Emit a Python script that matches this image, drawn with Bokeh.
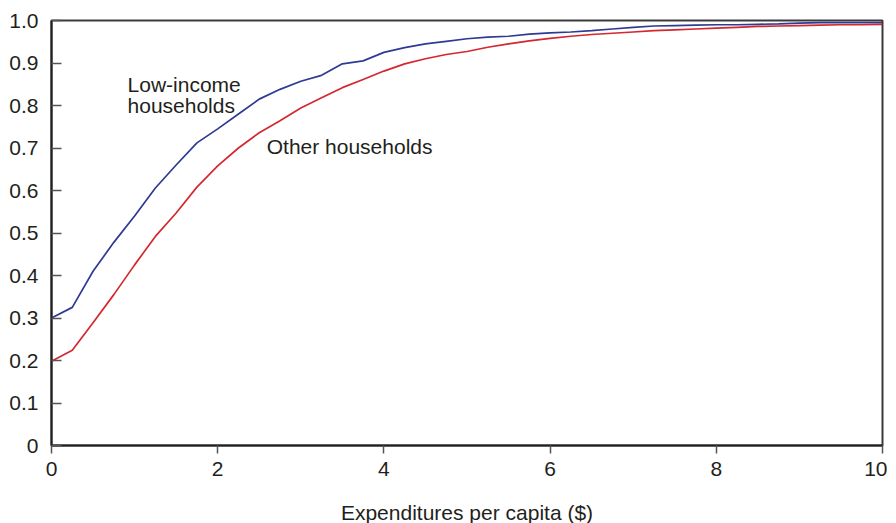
from bokeh.plotting import figure
from bokeh.models import Range1d, FixedTicker, ColumnDataSource
from bokeh.core.properties import value
from bokeh.embed import file_html
from bokeh.resources import INLINE

# ---- data ----
expenditure = [0, 0.25, 0.5, 0.75, 1.0, 1.25, 1.5, 1.75, 2.0, 2.25, 2.5, 2.75,
               3.0, 3.25, 3.5, 3.75, 4.0, 4.25, 4.5, 4.75, 5.0, 5.25, 5.5, 5.75,
               6.0, 6.25, 6.5, 6.75, 7.0, 7.25, 7.5, 7.75, 8.0, 8.25, 8.5, 8.75,
               9.0, 9.25, 9.5, 9.75, 10.0]
low_income = [0.300, 0.325, 0.410, 0.478, 0.540, 0.606, 0.660, 0.712, 0.745, 0.780,
              0.815, 0.838, 0.857, 0.871, 0.898, 0.905, 0.925, 0.936, 0.945, 0.951,
              0.957, 0.961, 0.963, 0.968, 0.971, 0.973, 0.976, 0.980, 0.984, 0.987,
              0.988, 0.989, 0.990, 0.990, 0.991, 0.992, 0.994, 0.995, 0.995, 0.995,
              0.995]
other = [0.198, 0.224, 0.289, 0.355, 0.425, 0.492, 0.547, 0.608, 0.658, 0.700,
         0.736, 0.764, 0.794, 0.818, 0.842, 0.861, 0.881, 0.898, 0.910, 0.920,
         0.927, 0.937, 0.945, 0.952, 0.958, 0.963, 0.967, 0.970, 0.973, 0.976,
         0.978, 0.980, 0.982, 0.984, 0.986, 0.987, 0.988, 0.989, 0.990, 0.990,
         0.991]

x_ticks = [0, 2, 4, 6, 8, 10]
y_ticks = [0, 0.1, 0.2, 0.3, 0.4, 0.5, 0.6, 0.7, 0.8, 0.9, 1.0]
y_tick_labels = ["0", "0.1", "0.2", "0.3", "0.4", "0.5", "0.6", "0.7", "0.8", "0.9", "1.0"]
x_title = "Expenditures per capita ($)"

label_texts = ["Low-income", "households", "Other households"]
label_x = [0.915, 0.915, 2.59]
label_y = [0.850, 0.801, 0.704]

FONT = "Liberation Sans"
TXT = "#231f20"
FS = "21px"

p = figure(width=887, height=515, output_backend="svg", toolbar_location=None,
           x_range=Range1d(0, 10), y_range=Range1d(0, 1),
           min_border_left=51, min_border_right=5, min_border_top=20,
           min_border_bottom=70)
p.frame_width = 831
p.frame_height = 425

p.xgrid.visible = False
p.ygrid.visible = False
p.outline_line_color = "#3a3a3a"
p.outline_line_width = 2
p.background_fill_color = "white"
p.border_fill_color = "white"

p.line(expenditure, low_income, line_color="#2e3a93", line_width=1.7)
p.line(expenditure, other, line_color="#d3282f", line_width=1.7)

src = ColumnDataSource(dict(x=label_x, y=label_y, t=label_texts))
p.text(x="x", y="y", text="t", source=src, text_font=value(FONT),
       text_font_size=FS, text_color=TXT, text_baseline="alphabetic",
       text_align="left")

xa = p.xaxis[0]
xa.ticker = FixedTicker(ticks=x_ticks)
xa.axis_label = x_title
xa.axis_label_text_font = FONT
xa.axis_label_text_font_size = FS
xa.axis_label_text_font_style = "normal"
xa.axis_label_text_color = TXT
xa.axis_label_standoff = 22
xa.major_label_text_font = FONT
xa.major_label_text_font_size = FS
xa.major_label_text_color = TXT
xa.major_label_standoff = 8
xa.major_tick_in = 0
xa.major_tick_out = 8
xa.minor_tick_in = 0
xa.minor_tick_out = 0
xa.major_tick_line_color = "#555555"
xa.major_tick_line_width = 1.5
xa.axis_line_color = "#231f20"
xa.axis_line_width = 2

ya = p.yaxis[0]
ya.ticker = FixedTicker(ticks=y_ticks)
ya.major_label_overrides = {t: l for t, l in zip(y_ticks, y_tick_labels)}
ya.major_label_text_font = FONT
ya.major_label_text_font_size = FS
ya.major_label_text_color = TXT
ya.major_label_standoff = 13
ya.major_tick_in = 10
ya.major_tick_out = 0
ya.minor_tick_in = 0
ya.minor_tick_out = 0
ya.major_tick_line_color = "#555555"
ya.major_tick_line_width = 1.5
ya.axis_line_color = "#231f20"
ya.axis_line_width = 2

open("out.html", "w").write(file_html(p, INLINE))
